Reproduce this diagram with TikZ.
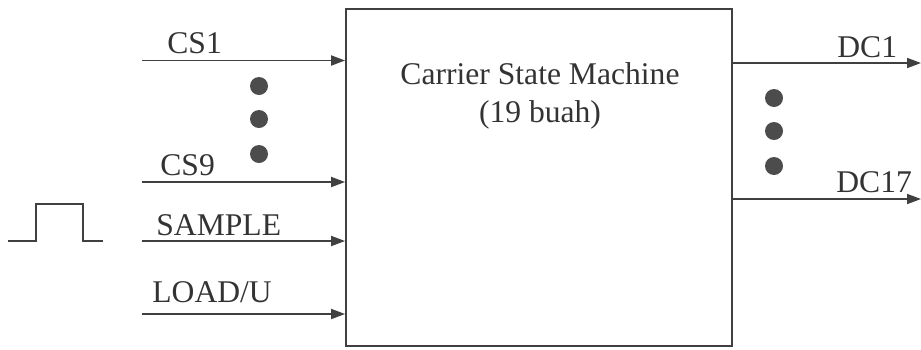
\documentclass[tikz,border=0pt]{standalone}
\usepackage{fontspec}
\setmainfont{Liberation Serif}
\usetikzlibrary{arrows.meta}

\tikzset{
  sig/.style={line width=0.9pt, black!75, -{Triangle[length=7pt,width=5pt]}},
  siglabel/.style={anchor=base west, inner sep=0pt, text=black!80, font=\fontsize{15.8}{19}\selectfont},
  bigdot/.style={circle, fill=black!70, inner sep=0pt, minimum size=9pt},
}

\begin{document}
\begin{tikzpicture}[x=0.5pt,y=-0.5pt]
\useasboundingbox (0,0) rectangle (921,349);
% block
\node[draw=black!75, line width=0.9pt, minimum width=193pt, minimum height=168.5pt, inner sep=0pt]
  (csm) at (539,177.5) {};
\node[align=center, text=black!80, font=\fontsize{15.8}{19}\selectfont] (title) at (540,96)
  {Carrier State Machine\\(19 buah)};
% inputs
\coordinate (cs1) at (142,60.5);
\coordinate (cs9) at (142,182);
\coordinate (smp) at (142,241);
\coordinate (ldu) at (142,314);
\draw[sig] (cs1) -- (cs1 -| csm.west);
\draw[sig] (cs9) -- (cs9 -| csm.west);
\draw[sig] (smp) -- (smp -| csm.west);
\draw[sig] (ldu) -- (ldu -| csm.west);
\node[siglabel] (lcs1) at (167,53.5) {CS1};
\node[siglabel] (lcs9) at (160,175.5) {CS9};
\node[siglabel] (lsmp) at (156,235.5) {SAMPLE};
\node[siglabel] (lldu) at (152,302.5) {LOAD/U};
\foreach \y [count=\i] in {86,119,154}
  \node[bigdot] (din\i) at (259,\y) {};
% pulse
\draw[line width=0.9pt, black!75] (8,241) -- (36,241) -- (36,204) -- (83,204) -- (83,241) -- (103,241);
% outputs
\coordinate (dc1) at (921,63);
\coordinate (dc17) at (921,199);
\draw[sig] (dc1 -| csm.east) -- (dc1);
\draw[sig] (dc17 -| csm.east) -- (dc17);
\node[siglabel] (ldc1) at (837,57.5) {DC1};
\node[siglabel] (ldc17) at (836,192.5) {DC17};
\foreach \y [count=\i] in {98,131,166}
  \node[bigdot] (dout\i) at (774,\y) {};
\end{tikzpicture}
\end{document}
